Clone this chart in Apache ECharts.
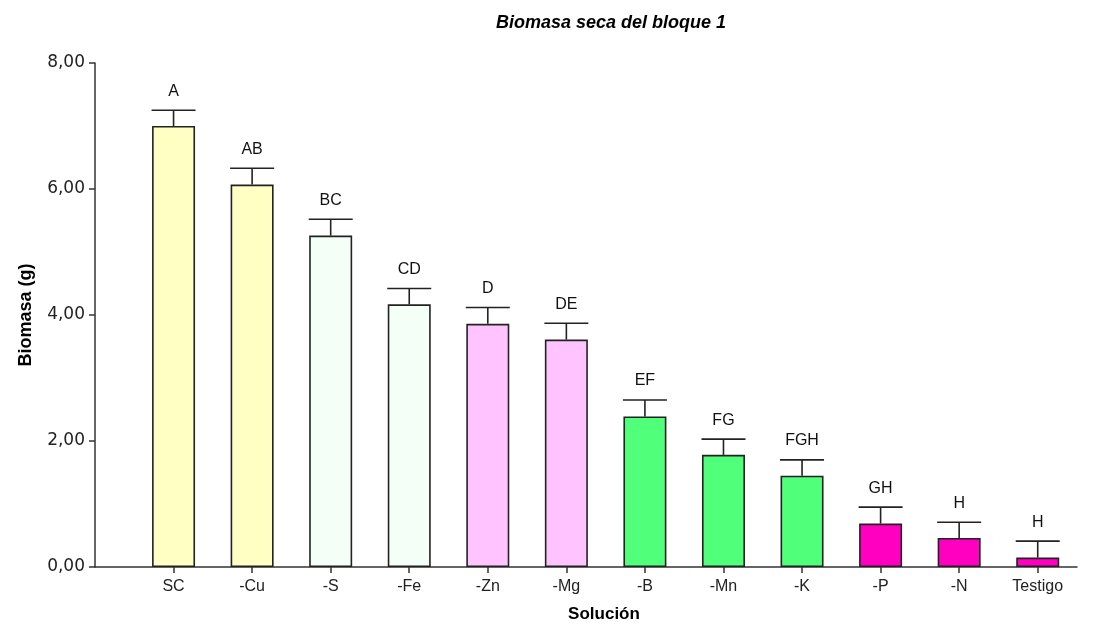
<!DOCTYPE html>
<html>
<head>
<meta charset="utf-8">
<script src="https://cdn.jsdelivr.net/npm/echarts@6/dist/echarts.min.js"></script>
<style>
  html, body { margin: 0; padding: 0; background: #fff; }
  #chart { width: 1112px; height: 629px; }
</style>
</head>
<body>
<div id="chart"></div>
<script>
// Dry biomass per nutrient solution (block 1), mean and error bar
const categories = ['SC', '-Cu', '-S', '-Fe', '-Zn', '-Mg', '-B', '-Mn', '-K', '-P', '-N', 'Testigo'];
const biomasa = [7.00, 6.07, 5.26, 4.17, 3.86, 3.61, 2.39, 1.78, 1.45, 0.69, 0.46, 0.15];
const error = [0.25, 0.26, 0.26, 0.25, 0.26, 0.26, 0.26, 0.25, 0.25, 0.26, 0.25, 0.26];
const letras = ['A', 'AB', 'BC', 'CD', 'D', 'DE', 'EF', 'FG', 'FGH', 'GH', 'H', 'H'];
const grupos = [0, 0, 1, 1, 2, 2, 3, 3, 3, 4, 4, 4];

const colores = ['#FFFFC4', '#F4FFF8', '#FFC4FF', '#50FF7A', '#FF00C0'];
const FONT = '"Liberation Sans", Arial, sans-serif';

const barData = biomasa.map((v, i) => ({
  value: [i, v],
  itemStyle: { color: colores[grupos[i]] }
}));

const errData = biomasa.map((v, i) => [i, v, v + error[i], letras[i]]);

const chart = echarts.init(document.getElementById('chart'), null, { renderer: 'canvas' });

chart.setOption({
  backgroundColor: '#ffffff',
  animation: false,
  title: {
    text: 'Biomasa seca del bloque 1',
    left: 606,
    top: 9,
    textAlign: 'center',
    textStyle: { fontFamily: FONT, fontSize: 18, fontWeight: 'bold', fontStyle: 'italic', color: '#000' }
  },
  grid: { left: 95, right: 35, top: 63, bottom: 62, containLabel: false },
  xAxis: {
    type: 'value',
    min: -1,
    max: 11.5,
    interval: 1,
    name: 'Solución',
    nameLocation: 'middle',
    nameGap: 39,
    nameTextStyle: { fontFamily: FONT, fontSize: 17, fontWeight: 'bold', color: '#000', padding: [0, 0, 0, 36] },
    splitLine: { show: false },
    axisLine: { show: true, onZero: false, lineStyle: { color: '#333', width: 1.5 } },
    axisTick: { show: true, length: 6, customValues: categories.map((c, i) => i), lineStyle: { color: '#333', width: 1.5 } },
    axisLabel: {
      customValues: categories.map((c, i) => i),
      formatter: v => categories[v] !== undefined ? categories[v] : '',
      margin: 12,
      fontFamily: FONT, fontSize: 16, color: '#222'
    }
  },
  yAxis: {
    type: 'value',
    min: 0,
    max: 8,
    interval: 2,
    name: 'Biomasa (g)',
    nameLocation: 'middle',
    nameGap: 60,
    nameRotate: 90,
    nameTextStyle: { fontFamily: FONT, fontSize: 18, fontWeight: 'bold', color: '#000' },
    splitLine: { show: false },
    axisLine: { show: true, onZero: false, lineStyle: { color: '#333', width: 1.5 } },
    axisTick: { show: true, length: 6, lineStyle: { color: '#333', width: 1.5 } },
    axisLabel: {
      formatter: v => v.toFixed(2).replace('.', ','),
      margin: 10,
      fontFamily: '"DejaVu Sans", sans-serif', fontSize: 17, color: '#222'
    }
  },
  series: [
    {
      type: 'bar',
      barWidth: 43,
      data: barData,
      itemStyle: { borderColor: '#222', borderWidth: 1.6 },
      z: 2
    },
    {
      type: 'custom',
      data: errData,
      z: 3,
      renderItem: (params, api) => {
        const x = api.value(0);
        const top = api.coord([x, api.value(1)]);
        const hi = api.coord([x, api.value(2)]);
        const half = 22;
        const style = { stroke: '#222', lineWidth: 1.6 };
        return {
          type: 'group',
          children: [
            { type: 'line', shape: { x1: top[0], y1: top[1], x2: hi[0], y2: hi[1] }, style },
            { type: 'line', shape: { x1: hi[0] - half, y1: hi[1], x2: hi[0] + half, y2: hi[1] }, style },
            {
              type: 'text',
              x: hi[0], y: hi[1] - 19,
              style: {
                text: api.value(3),
                align: 'center', verticalAlign: 'middle',
                font: '16px ' + FONT, fill: '#111'
              }
            }
          ]
        };
      }
    }
  ]
});
</script>
</body>
</html>
